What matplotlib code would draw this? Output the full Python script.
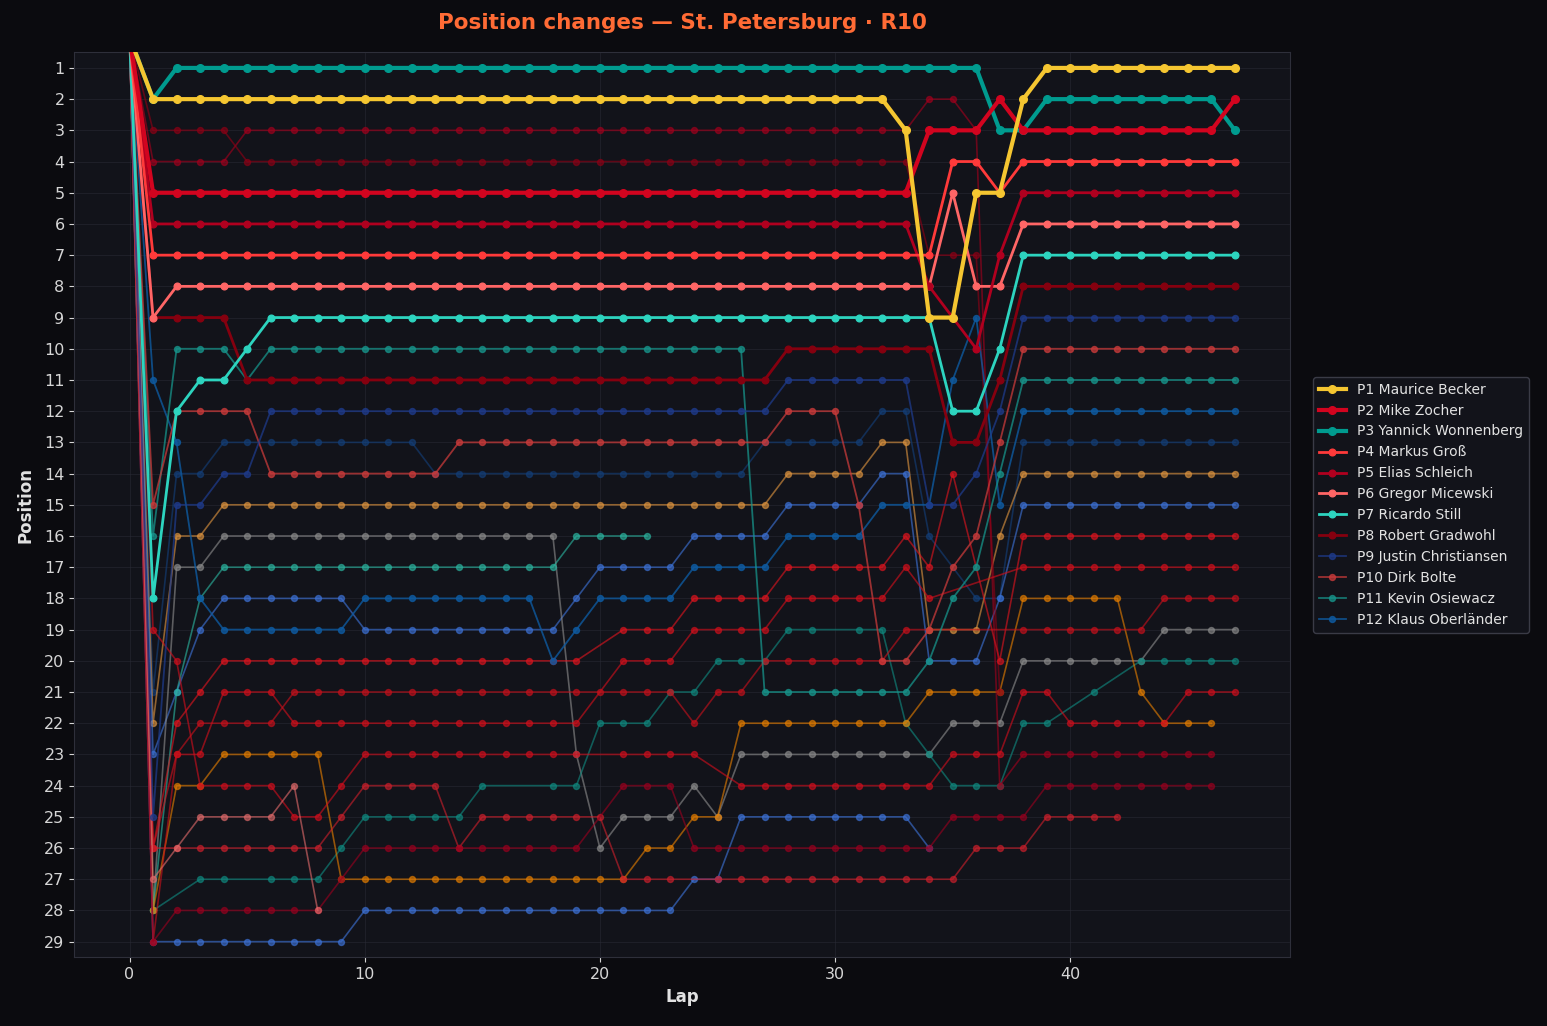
import matplotlib
matplotlib.use("Agg")
import matplotlib.pyplot as plt

N = None
LAPS = list(range(48))

# ---- labelled drivers (legend order = final position) ----
NAMES = ["P1 Maurice Becker", "P2 Mike Zocher", "P3 Yannick Wonnenberg", "P4 Markus Groß",
         "P5 Elias Schleich", "P6 Gregor Micewski", "P7 Ricardo Still", "P8 Robert Gradwohl",
         "P9 Justin Christiansen", "P10 Dirk Bolte", "P11 Kevin Osiewacz", "P12 Klaus Oberländer"]

P1 = [0,2,2,2,2,2,2,2,2,2, 2,2,2,2,2,2,2,2,2,2, 2,2,2,2,2,2,2,2,2,2, 2,2,2,3,9,9,5,5,2,1, 1,1,1,1,1,1,1,1]
P2 = [0,5,5,5,5,5,5,5,5,5, 5,5,5,5,5,5,5,5,5,5, 5,5,5,5,5,5,5,5,5,5, 5,5,5,5,3,3,3,2,3,3, 3,3,3,3,3,3,3,2]
P3 = [0,2,1,1,1,1,1,1,1,1, 1,1,1,1,1,1,1,1,1,1, 1,1,1,1,1,1,1,1,1,1, 1,1,1,1,1,1,1,3,3,2, 2,2,2,2,2,2,2,3]
P4 = [0,7,7,7,7,7,7,7,7,7, 7,7,7,7,7,7,7,7,7,7, 7,7,7,7,7,7,7,7,7,7, 7,7,7,7,7,4,4,5,4,4, 4,4,4,4,4,4,4,4]
P5 = [0,6,6,6,6,6,6,6,6,6, 6,6,6,6,6,6,6,6,6,6, 6,6,6,6,6,6,6,6,6,6, 6,6,6,6,8,9,10,7,5,5, 5,5,5,5,5,5,5,5]
P6 = [0,9,8,8,8,8,8,8,8,8, 8,8,8,8,8,8,8,8,8,8, 8,8,8,8,8,8,8,8,8,8, 8,8,8,8,8,5,8,8,6,6, 6,6,6,6,6,6,6,6]
P7 = [0,18,12,11,11,10,9,9,9,9, 9,9,9,9,9,9,9,9,9,9, 9,9,9,9,9,9,9,9,9,9, 9,9,9,9,9,12,12,10,7,7, 7,7,7,7,7,7,7,7]
P8 = [0,9,9,9,9,11,11,11,11,11, 11,11,11,11,11,11,11,11,11,11, 11,11,11,11,11,11,11,11,10,10, 10,10,10,10,10,13,13,11,8,8, 8,8,8,8,8,8,8,8]
P9 = [0,25,15,15,14,14,12,12,12,12, 12,12,12,12,12,12,12,12,12,12, 12,12,12,12,12,12,12,12,11,11, 11,11,11,11,15,15,14,12,9,9, 9,9,9,9,9,9,9,9]
P10 = [0,15,12,12,12,12,14,14,14,14, 14,14,14,14,13,13,13,13,13,13, 13,13,13,13,13,13,13,13,12,12, 12,15,20,20,19,17,16,13,10,10, 10,10,10,10,10,10,10,10]
P11 = [0,16,10,10,10,11,10,10,10,10, 10,10,10,10,10,10,10,10,10,10, 10,10,10,10,10,10,10,21,21,21, 21,21,21,21,20,18,17,14,11,11, 11,11,11,11,11,11,11,11]
P12 = [0,11,13,18,19,19,19,19,19,19, 18,18,18,18,18,18,18,18,20,19, 18,18,18,18,17,17,17,17,16,16, 16,16,15,15,15,11,9,15,12,12, 12,12,12,12,12,12,12,12]

# ---- unlabelled drivers ----
N1 = [0,21,14,14,13,13,13,13,13,13, 13,13,13,14,14,14,14,14,14,14, 14,14,14,14,14,14,14,13,13,13, 13,13,12,12,16,N,18,18,13,13, 13,13,13,13,13,13,13,13]
O1 = [0,22,16,16,15,15,15,15,15,15, 15,15,15,15,15,15,15,15,15,15, 15,15,15,15,15,15,15,15,14,14, 14,14,13,13,19,19,19,16,14,14, 14,14,14,14,14,14,14,14]
B3 = [0,23,21,19,18,18,18,18,18,18, 19,19,19,19,19,19,19,19,19,18, 17,17,17,17,16,16,16,16,15,15, 15,15,14,14,20,20,20,18,15,15, 15,15,15,15,15,15,15,15]
GR = [0,28,17,17,16,16,16,16,16,16, 16,16,16,16,16,16,16,16,16,23, 26,25,25,25,24,25,23,23,23,23, 23,23,23,23,23,22,22,22,20,20, 20,20,20,20,19,19,19,19]
TB = [0,28,N,27,27,N,27,27,27,26, 25,25,25,25,25,24,N,N,24,24, 22,22,22,21,21,20,20,20,19,19, N,19,19,22,23,24,24,24,22,22, N,21,N,20,20,20,20,20]
T17 = [0,28,21,18,17,17,17,17,17,17, 17,17,17,17,17,17,17,17,17,16, 16,16,16,N,N,N,N,N,N,N, N,N,N,N,N,N,N,N,N,N, N,N,N,N,N,N,N,N]
O2 = [0,28,24,24,23,23,23,23,23,27, 27,27,27,27,27,27,27,27,27,27, 27,27,26,26,25,25,22,22,22,22, 22,22,22,22,21,21,21,21,18,18, 18,18,18,21,22,22,22,N]
B2 = [0,29,29,29,29,29,29,29,29,29, 28,28,28,28,28,28,28,28,28,28, 28,28,28,28,27,27,25,25,25,25, 25,25,25,25,26,N,N,N,N,N, N,N,N,N,N,N,N,N]
RA = [0,4,4,4,4,3,3,3,3,3, 3,3,3,3,3,3,3,3,3,3, 3,3,3,3,3,3,3,3,3,3, 3,3,3,3,2,2,3,24,23,23, 23,23,23,23,23,23,23,N]
RB = [0,3,3,3,3,4,4,4,4,4, 4,4,4,4,4,4,4,4,4,4, 4,4,4,4,4,4,4,4,4,4, 4,4,4,4,7,7,7,21,N,N, N,N,N,N,N,N,N,N]
S1 = [0,26,22,21,20,20,20,20,20,20, 20,20,20,20,20,20,20,20,20,20, N,19,19,19,18,18,18,18,17,17, 17,17,17,16,17,14,N,20,16,16, 16,16,16,16,16,16,16,16]
S2 = [0,26,23,23,21,21,21,22,22,22, 22,22,22,22,22,22,22,22,22,22, N,20,20,20,19,19,19,19,18,18, 18,18,18,17,18,N,N,N,17,17, 17,17,17,17,17,17,17,17]
S3 = [0,29,23,22,22,22,22,21,21,21, 21,21,21,21,21,21,21,21,21,21, 21,21,21,21,22,21,21,20,20,20, 20,20,20,19,N,N,N,N,19,19, 19,19,19,19,18,18,18,18]
RZ = [0,19,20,24,24,24,24,25,25,24, 23,23,23,23,23,23,23,23,23,23, N,23,23,23,23,N,24,24,24,24, 24,24,24,24,24,23,23,23,21,21, 22,22,22,22,22,21,21,21]
R24 = [0,26,26,26,26,26,26,26,26,25, 24,24,24,24,26,25,25,25,25,25, 25,27,27,27,N,27,27,27,27,27, 27,27,27,27,27,27,26,26,26,25, 25,25,25,N,N,N,N,N]
R28 = [0,29,28,28,28,28,28,28,28,27, 26,26,26,26,26,26,26,26,26,26, N,24,24,24,26,26,26,26,26,26, 26,26,26,26,26,25,25,25,25,24, 24,24,24,24,24,24,24,N]
PK = [0,27,26,25,25,25,25,24,28,N, N,N,N,N,N,N,N,N,N,N, N,N,N,N,N,N,N,N,N,N, N,N,N,N,N,N,N,N,N,N, N,N,N,N,N,N,N,N]

LABELLED = [P1, P2, P3, P4, P5, P6, P7, P8, P9, P10, P11, P12]
COLORS = ["#f5c631", "#d2041f", "#009b8f", "#ff3a3a", "#b0001f", "#ff6666",
          "#2dd4bf", "#85000f", "#1e3a8a", "#c83a3a", "#17938a", "#0e5aa0"]
WIDTHS = [3.0, 3.0, 3.0, 2.0, 2.0, 2.0, 2.0, 2.0, 1.3, 1.3, 1.3, 1.3]
MSIZES = [5.5, 5.5, 5.5, 4.8, 4.8, 4.8, 4.8, 4.8, 4.3, 4.3, 4.3, 4.3]
ALPHAS = [1, 1, 1, 1, 1, 1, 1, 1, 0.75, 0.75, 0.75, 0.8]

OTHERS = [N1, O1, B3, GR, TB, T17, O2, B2, RA, RB, S1, S2, S3, RZ, R24, R28, PK]
OTHER_COLORS = ["#123f7a", "#e0953f", "#3d73d9", "#8c8c8c", "#0f8a80", "#2bb5a0", "#e67e00",
                "#3d73d9", "#a3001c", "#8f0015", "#e0141e", "#d40f1a", "#c8101a", "#d10e1c",
                "#cc1f2b", "#99001e", "#e06a6a"]

BG = "#0b0b0f"
AX_BG = "#12131a"
TXT = "#e2e2e2"

fig = plt.figure(figsize=(15.47, 10.26), dpi=100, facecolor=BG)
ax = fig.add_axes([0.048, 0.067, 0.786, 0.882])
ax.set_facecolor(AX_BG)


def pts(series):
    xs = [x for x, v in zip(LAPS, series) if v is not None]
    ys = [v for v in series if v is not None]
    return xs, ys


for s, c in zip(OTHERS, OTHER_COLORS):
    xs, ys = pts(s)
    ax.plot(xs, ys, color=c, lw=1.2, marker="o", ms=4.3, alpha=0.62, zorder=2)

handles = []
for i in range(len(LABELLED) - 1, -1, -1):
    xs, ys = pts(LABELLED[i])
    h, = ax.plot(xs, ys, color=COLORS[i], lw=WIDTHS[i], marker="o", ms=MSIZES[i],
                 alpha=ALPHAS[i], label=NAMES[i], zorder=3 + (12 - i) * 0.1)
    handles.append(h)
handles = handles[::-1]

ax.set_ylim(29.5, 0.5)
ax.set_xlim(-2.35, 49.35)
ax.set_yticks(range(1, 30))
ax.set_xticks([0, 10, 20, 30, 40])
ax.grid(True, color="#2a2b36", lw=0.6, alpha=0.6)
ax.set_axisbelow(True)
for sp in ax.spines.values():
    sp.set_color("#2e2f3a")
ax.tick_params(colors="#d6d6d6", labelsize=11.5)

ax.set_xlabel("Lap", color=TXT, fontsize=12, fontweight="bold")
ax.set_ylabel("Position", color=TXT, fontsize=12, fontweight="bold", labelpad=7)
ax.set_title("Position changes — St. Petersburg · R10", color="#ff6b35",
             fontsize=15.5, fontweight="bold", pad=17)

leg = ax.legend(handles=handles, loc="center left", bbox_to_anchor=(1.013, 0.5),
                facecolor=AX_BG, edgecolor="#3a3b46", labelcolor=TXT, fontsize=10,
                framealpha=1)

fig.savefig("out.png", dpi=100, facecolor=BG)
